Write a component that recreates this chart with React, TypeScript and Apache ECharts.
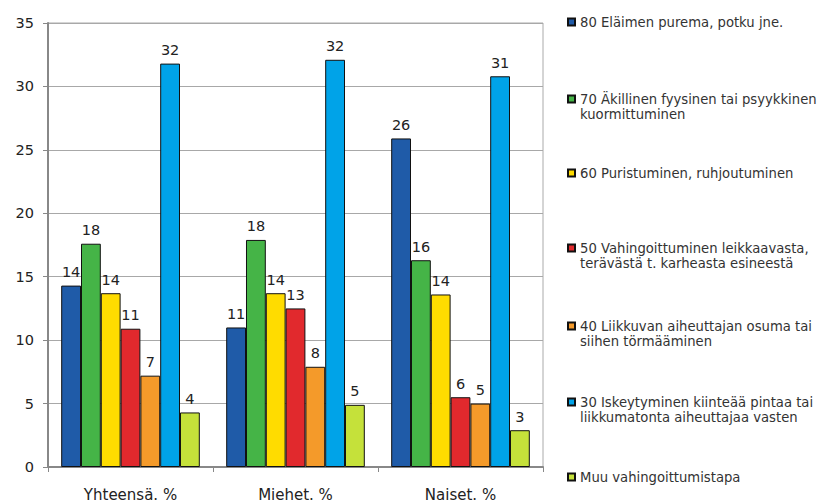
import React, { useEffect, useRef } from "react";
import * as echarts from "echarts";

const categories = ["Yhteensä. %", "Miehet. %", "Naiset. %"];
const seriesNames = [
  "80 Eläimen purema, potku jne.",
  "70 Äkillinen fyysinen tai psyykkinen\nkuormittuminen",
  "60 Puristuminen, ruhjoutuminen",
  "50 Vahingoittuminen leikkaavasta,\nterävästä t. karheasta esineestä",
  "40 Liikkuvan aiheuttajan osuma tai\nsiihen törmääminen",
  "30 Iskeytyminen kiinteää pintaa tai\nliikkumatonta aiheuttajaa vasten",
  "Muu vahingoittumistapa",
];
const s80 = [14.3, 11.0, 25.9];
const s70 = [17.6, 17.9, 16.3];
const s60 = [13.7, 13.7, 13.6];
const s50 = [10.9, 12.5, 5.5];
const s40 = [7.2, 7.9, 5.0];
const s30 = [31.8, 32.1, 30.8];
const sMuu = [4.3, 4.9, 2.9];
const seriesValues = [s80, s70, s60, s50, s40, s30, sMuu];
const colors = ["#1F5BA8", "#45B447", "#FFDC00", "#E1292D", "#F49A2A", "#00A3E8", "#C5E13A"];
const legendCenters = [22, 99, 173, 248, 326, 402, 477];

export default function App() {
  const ref = useRef<HTMLDivElement>(null);
  useEffect(() => {
    if (!ref.current) return;
    const chart = echarts.init(ref.current, null, { renderer: "svg" });
    const font = "DejaVu Sans";
    const legendSize = 13.2;
    const legends = seriesNames.map((name, i) => ({
      data: [name],
      orient: "vertical",
      left: 567,
      top: legendCenters[i] - 8,
      padding: 0,
      itemWidth: 7,
      itemHeight: 7,
      itemGap: 5,
      icon: "rect",
      selectedMode: false,
      formatter: (n: string) => n.split("\n")[0],
      textStyle: { fontFamily: font, fontSize: legendSize, color: "#333", lineHeight: 16 },
    }));
    const graphics: any[] = [];
    seriesNames.forEach((name, i) => {
      const parts = name.split("\n");
      if (parts.length > 1) {
        graphics.push({
          type: "text",
          left: 580,
          top: legendCenters[i] + 17 - 8,
          style: { text: parts[1], fontFamily: font, fontSize: legendSize, fill: "#333" },
        });
      }
    });
    chart.setOption({
      animation: false,
      backgroundColor: "#fff",
      grid: {
        left: 48,
        right: 280,
        top: 23,
        bottom: 37,
        show: true,
        borderColor: "#aaa",
        borderWidth: 1,
      },
      legend: legends,
      graphic: graphics,
      xAxis: {
        type: "category",
        data: categories,
        axisLine: { lineStyle: { color: "#888", width: 2 } },
        axisTick: { show: true, length: 5, alignWithLabel: false, lineStyle: { color: "#888" } },
        axisLabel: { fontFamily: font, fontSize: 15, color: "#222", margin: 20 },
      },
      yAxis: {
        type: "value",
        min: 0,
        max: 35,
        interval: 5,
        axisLine: { show: true, lineStyle: { color: "#888", width: 2 } },
        axisTick: { show: true, length: 5, lineStyle: { color: "#888" } },
        axisLabel: { fontFamily: font, fontSize: 14.5, color: "#222", margin: 14 },
        splitLine: { lineStyle: { color: "#a8a8a8", width: 1 } },
      },
      series: seriesNames.map((name, i) => ({
        type: "bar",
        name,
        data: seriesValues[i],
        barGap: "0%",
        barCategoryGap: "16%",
        itemStyle: { color: colors[i], borderColor: "#111", borderWidth: 1 },
        label: {
          show: true,
          position: "top",
          distance: 6,
          fontFamily: font,
          fontSize: 14.5,
          color: "#222",
          formatter: (p: any) => String(Math.round(p.value)),
        },
      })),
    });
    return () => chart.dispose();
  }, []);
  return <div ref={ref} style={{ width: 823, height: 504, position: "absolute", left: 0, top: 0 }} />;
}
